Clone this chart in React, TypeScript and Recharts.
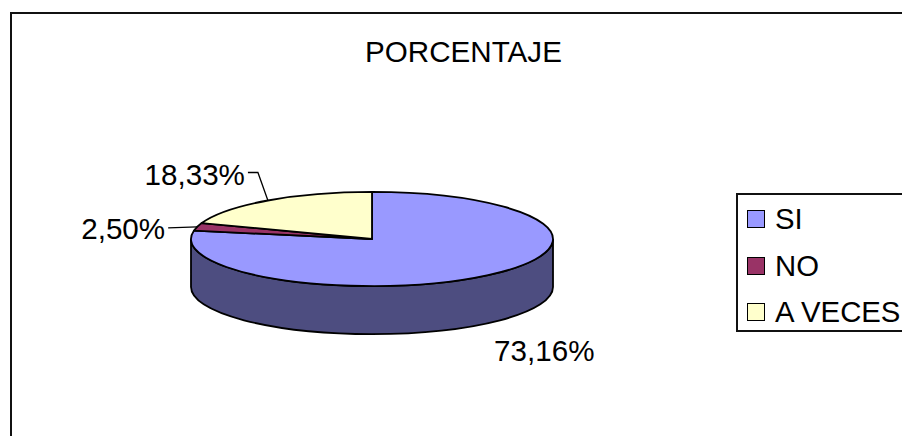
import React from "react";
import { PieChart, Pie, Legend } from "recharts";

const categories = ["SI", "NO", "A VECES"];
const percentages = [73.16, 2.5, 18.33];
const sliceColors = ["#9999FF", "#993366", "#FFFFCC"];
const wallColors = ["#4D4D80", "#4D1A33", "#808066"];

const tableData = categories.map((name, i) => ({
    name,
    value: percentages[i],
    fill: sliceColors[i],
}));

const FONT = "'Liberation Sans', Arial, sans-serif";
const FONT_SIZE = 29.6;
const TILT = 0.26;
const DEPTH = 48;

// where each label sits relative to the middle of its slice's rim
const labelLayout = [
    { dx: 6, dy: 86, anchor: "start", leader: [] as number[][] },
    { dx: -32, dy: 12, anchor: "end", leader: [[-29, 1]] },
    { dx: -23, dy: -15, anchor: "end", leader: [[-10, -28], [-20, -28]] },
];

const rad = (deg: number) => (deg * Math.PI) / 180;

function rimPoint(cx: number, cy: number, r: number, deg: number) {
    return [cx + r * Math.cos(rad(deg)), cy - r * TILT * Math.sin(rad(deg))];
}

function SliceShape(props: any) {
    const { cx, cy, outerRadius: r, startAngle, endAngle, fill, index } = props;
    const ry = r * TILT;
    const [sx, sy] = rimPoint(cx, cy, r, startAngle);
    const [ex, ey] = rimPoint(cx, cy, r, endAngle);
    const large = startAngle - endAngle > 180 ? 1 : 0;
    const top = `M${cx},${cy} L${sx},${sy} A${r},${ry} 0 ${large} 1 ${ex},${ey} Z`;

    // the wall only shows on the front half of the ellipse
    const a1 = Math.min(startAngle, 0);
    const a2 = Math.max(endAngle, -180);
    let wall = null;
    if (a1 > a2) {
        const [wx1, wy1] = rimPoint(cx, cy, r, a1);
        const [wx2, wy2] = rimPoint(cx, cy, r, a2);
        wall = (
            <path
                d={`M${wx1},${wy1} A${r},${ry} 0 0 1 ${wx2},${wy2} L${wx2},${wy2 + DEPTH} A${r},${ry} 0 0 0 ${wx1},${wy1 + DEPTH} Z`}
                fill={wallColors[index ?? 0]}
                stroke="#000"
                strokeWidth={1.8}
            />
        );
    }
    return (
        <g>
            {wall}
            <path d={top} fill={fill} stroke="#000" strokeWidth={1.8} strokeLinejoin="round" />
        </g>
    );
}

function SliceLabel(props: any) {
    const { cx, cy, outerRadius, midAngle, index, value } = props;
    const [ax, ay] = rimPoint(cx, cy, outerRadius, midAngle);
    const layout = labelLayout[index];
    const linePoints = [[ax, ay], ...layout.leader.map(([dx, dy]) => [ax + dx, ay + dy])];
    return (
        <g>
            {layout.leader.length > 0 && (
                <polyline
                    points={linePoints.map((p) => p.join(",")).join(" ")}
                    fill="none"
                    stroke="#000"
                    strokeWidth={1.3}
                />
            )}
            <text
                x={ax + layout.dx}
                y={ay + layout.dy}
                textAnchor={layout.anchor}
                fontFamily={FONT}
                fontSize={FONT_SIZE}
                fill="#000"
            >
                {value.toFixed(2).replace(".", ",") + "%"}
            </text>
        </g>
    );
}

function LegendBox({ payload }: any) {
    return (
        <div style={{
            position: "relative",
            width: 300,
            height: 139,
            boxSizing: "border-box",
            border: "2px solid #111",
            background: "#fff",
            fontFamily: FONT,
            fontSize: 29.3,
            color: "#000",
        }}>
            {(payload || []).map((item: any, i: number) => (
                <div key={item.value} style={{
                    position: "absolute",
                    left: 9,
                    top: 14 + i * 46.5,
                    height: 20,
                    display: "flex",
                    alignItems: "center",
                    whiteSpace: "nowrap",
                }}>
                    <span style={{
                        width: 16,
                        height: 16,
                        border: "1.5px solid #000",
                        background: sliceColors[categories.indexOf(item.value)],
                        marginRight: 10,
                        flex: "none",
                    }} />
                    {item.value}
                </div>
            ))}
        </div>
    );
}

export default function App() {
    return (
        <div style={{ position: "fixed", left: 0, top: 0, width: 902, height: 436, overflow: "hidden", background: "#fff" }}>
            <div style={{
                position: "absolute",
                left: 10,
                top: 12,
                width: 1000,
                height: 1000,
                border: "2.5px solid #111",
            }} />
            <div style={{ position: "absolute", left: 0, top: 0 }}>
                <PieChart width={1102} height={436} margin={{ top: 0, right: 0, bottom: 0, left: 0 }}>
                    <text x={463.5} y={62} textAnchor="middle" fontFamily={FONT} fontSize={FONT_SIZE} fill="#000">
                        PORCENTAJE
                    </text>
                    <Pie
                        data={tableData}
                        dataKey="value"
                        nameKey="name"
                        cx={372}
                        cy={239}
                        outerRadius={181}
                        startAngle={90}
                        endAngle={-270}
                        shape={SliceShape}
                        label={SliceLabel}
                        labelLine={false}
                        isAnimationActive={false}
                    />
                    <Legend
                        content={LegendBox}
                        itemSorter={null}
                        wrapperStyle={{ position: "absolute", left: 736, top: 193, width: 300, height: 139 }}
                    />
                </PieChart>
            </div>
        </div>
    );
}
